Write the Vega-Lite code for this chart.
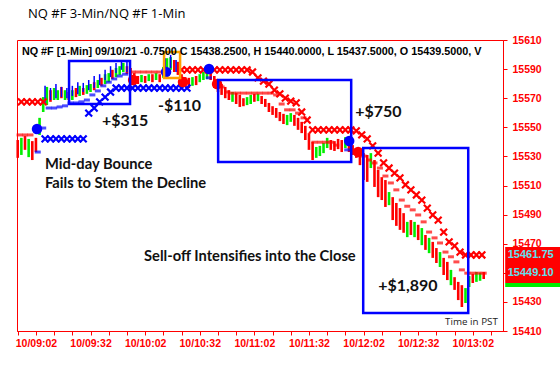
{
"$schema":"https://vega.github.io/schema/vega-lite/v6.json",
"width":486,"height":291,
"autosize":{"type":"none"},
"padding":{"left":17,"top":40,"right":57,"bottom":50},
"background":"white",
"title":{"text":"NQ #F 3-Min/NQ #F 1-Min","anchor":"start","frame":"group","offset":14,"dx":11,"fontSize":13,"fontWeight":"normal","font":"Open Sans","color":"#000000"},
"config":{"view":{"stroke":"#ff0000","strokeWidth":1},"font":"Liberation Sans"},
"datasets":{
"candles":[
{"t":532,"p":15541.25,"p2":15529,"d":"down"},{"t":534,"p":15542.75,"p2":15531,"d":"up"},{"t":536,"p":15544,"p2":15534.5,"d":"down"},{"t":538,"p":15542,"p2":15529.5,"d":"up"},{"t":540,"p":15540.5,"p2":15527.5,"d":"down"},{"t":542,"p":15542.75,"p2":15533,"d":"down"},{"t":544,"p":15556.5,"p2":15544.75,"d":"up"},{"t":546,"p":15570.75,"p2":15560.5,"d":"up"},{"t":548,"p":15577.75,"p2":15565.25,"d":"up"},{"t":550,"p":15575.5,"p2":15567.5,"d":"down"},
{"t":552,"p":15577,"p2":15568.75,"d":"up"},{"t":554,"p":15575.5,"p2":15568.75,"d":"up"},{"t":556,"p":15577.75,"p2":15570,"d":"down"},{"t":558,"p":15575.5,"p2":15568.75,"d":"up"},{"t":560,"p":15574.25,"p2":15568.75,"d":"down"},{"t":562,"p":15575.5,"p2":15568.75,"d":"up"},{"t":564,"p":15577,"p2":15570.75,"d":"down"},{"t":566,"p":15578.5,"p2":15571.5,"d":"up"},{"t":568,"p":15577,"p2":15572.25,"d":"down"},{"t":570,"p":15579,"p2":15573,"d":"up"},
{"t":572,"p":15579.75,"p2":15574.25,"d":"up"},{"t":574,"p":15581,"p2":15575.5,"d":"down"},{"t":576,"p":15582.5,"p2":15577,"d":"up"},{"t":578,"p":15584,"p2":15578.5,"d":"down"},{"t":580,"p":15586.5,"p2":15579.75,"d":"up"},{"t":582,"p":15587.25,"p2":15581,"d":"up"},{"t":584,"p":15589.5,"p2":15583.25,"d":"down"},{"t":586,"p":15590.75,"p2":15584.5,"d":"up"},{"t":588,"p":15592,"p2":15586,"d":"up"},{"t":590,"p":15594.25,"p2":15588,"d":"up"},
{"t":592,"p":15592,"p2":15586.5,"d":"down"},{"t":594,"p":15590.75,"p2":15585.25,"d":"down"},{"t":596,"p":15587.25,"p2":15579,"d":"down"},{"t":598,"p":15585.25,"p2":15579.75,"d":"down"},{"t":600,"p":15586,"p2":15581,"d":"up"},{"t":602,"p":15585.25,"p2":15580.5,"d":"down"},{"t":604,"p":15586.5,"p2":15581.75,"d":"up"},{"t":606,"p":15586.5,"p2":15581,"d":"down"},{"t":608,"p":15587.25,"p2":15582.5,"d":"up"},{"t":610,"p":15586.5,"p2":15581,"d":"down"},
{"t":612,"p":15591.5,"p2":15584,"d":"up"},{"t":614,"p":15597.5,"p2":15588,"d":"up"},{"t":616,"p":15598.25,"p2":15589.5,"d":"up"},{"t":618,"p":15596.25,"p2":15588,"d":"down"},{"t":620,"p":15595,"p2":15586,"d":"down"},{"t":622,"p":15586.5,"p2":15579.75,"d":"down"},{"t":624,"p":15584.5,"p2":15578.5,"d":"down"},{"t":626,"p":15584,"p2":15577,"d":"down"},{"t":628,"p":15584.5,"p2":15578.5,"d":"up"},{"t":630,"p":15585.25,"p2":15579,"d":"down"},
{"t":632,"p":15586.5,"p2":15581,"d":"up"},{"t":634,"p":15588,"p2":15582.5,"d":"up"},{"t":636,"p":15588.75,"p2":15583.25,"d":"up"},{"t":638,"p":15589.5,"p2":15582.5,"d":"down"},{"t":640,"p":15585.25,"p2":15577,"d":"down"},{"t":642,"p":15582.5,"p2":15574.25,"d":"down"},{"t":644,"p":15579.75,"p2":15572.25,"d":"down"},{"t":646,"p":15577.75,"p2":15570,"d":"down"},{"t":648,"p":15575.5,"p2":15568.75,"d":"down"},{"t":650,"p":15574.25,"p2":15567.5,"d":"up"},
{"t":652,"p":15573.5,"p2":15566,"d":"down"},{"t":654,"p":15572.25,"p2":15564,"d":"down"},{"t":656,"p":15570,"p2":15564.5,"d":"down"},{"t":658,"p":15570.75,"p2":15565.25,"d":"up"},{"t":660,"p":15572.25,"p2":15566,"d":"up"},{"t":662,"p":15573,"p2":15567.5,"d":"down"},{"t":664,"p":15573,"p2":15568,"d":"up"},{"t":666,"p":15571.5,"p2":15566,"d":"down"},{"t":668,"p":15569.5,"p2":15564,"d":"down"},{"t":670,"p":15566.75,"p2":15560.5,"d":"down"},
{"t":672,"p":15564.5,"p2":15558.5,"d":"down"},{"t":674,"p":15563.25,"p2":15556.5,"d":"down"},{"t":676,"p":15560.5,"p2":15554.25,"d":"down"},{"t":678,"p":15559.25,"p2":15552.25,"d":"down"},{"t":680,"p":15558.5,"p2":15551.5,"d":"up"},{"t":682,"p":15559.75,"p2":15553.75,"d":"up"},{"t":684,"p":15558.5,"p2":15551,"d":"down"},{"t":686,"p":15556.5,"p2":15548.25,"d":"down"},{"t":688,"p":15553.75,"p2":15546,"d":"down"},{"t":690,"p":15551,"p2":15541.25,"d":"down"},
{"t":692,"p":15546,"p2":15534.5,"d":"down"},{"t":694,"p":15540,"p2":15527.5,"d":"down"},{"t":696,"p":15536.5,"p2":15529,"d":"up"},{"t":698,"p":15537.25,"p2":15530.25,"d":"up"},{"t":700,"p":15539.25,"p2":15532.25,"d":"up"},{"t":702,"p":15542.75,"p2":15535.75,"d":"up"},{"t":704,"p":15541.25,"p2":15534.5,"d":"down"},{"t":706,"p":15540.5,"p2":15533.75,"d":"down"},{"t":708,"p":15542,"p2":15535,"d":"down"},{"t":710,"p":15541.25,"p2":15533,"d":"down"},
{"t":712,"p":15543.25,"p2":15535.75,"d":"up"},{"t":714,"p":15541.25,"p2":15533,"d":"down"},{"t":716,"p":15537.75,"p2":15531,"d":"down"},{"t":718,"p":15535.75,"p2":15529,"d":"down"},{"t":720,"p":15534.5,"p2":15524,"d":"down"},{"t":722,"p":15532.25,"p2":15513.75,"d":"down"},{"t":724,"p":15531,"p2":15512.5,"d":"down"},{"t":726,"p":15532.25,"p2":15522,"d":"up"},{"t":728,"p":15527.5,"p2":15509,"d":"down"},{"t":730,"p":15520.75,"p2":15502,"d":"down"},
{"t":732,"p":15515.75,"p2":15500,"d":"down"},{"t":734,"p":15513.75,"p2":15495.25,"d":"down"},{"t":736,"p":15505.5,"p2":15496.5,"d":"up"},{"t":738,"p":15502,"p2":15486.25,"d":"down"},{"t":740,"p":15498,"p2":15482.25,"d":"down"},{"t":742,"p":15494.5,"p2":15479.5,"d":"down"},{"t":744,"p":15491,"p2":15477.5,"d":"down"},{"t":746,"p":15485,"p2":15474.5,"d":"up"},{"t":748,"p":15486.25,"p2":15476,"d":"down"},{"t":750,"p":15485,"p2":15474.5,"d":"up"},
{"t":752,"p":15483,"p2":15472.5,"d":"down"},{"t":754,"p":15480.75,"p2":15469,"d":"up"},{"t":756,"p":15476,"p2":15465.75,"d":"down"},{"t":758,"p":15474,"p2":15463.5,"d":"up"},{"t":760,"p":15471.25,"p2":15460.25,"d":"down"},{"t":762,"p":15467,"p2":15456.75,"d":"down"},{"t":764,"p":15464.25,"p2":15454,"d":"up"},{"t":766,"p":15460.25,"p2":15448.5,"d":"down"},{"t":768,"p":15457.5,"p2":15445,"d":"down"},{"t":770,"p":15452,"p2":15441.5,"d":"up"},
{"t":772,"p":15447,"p2":15438.25,"d":"down"},{"t":774,"p":15443.75,"p2":15431.25,"d":"down"},{"t":776,"p":15441.5,"p2":15426.5,"d":"down"},{"t":778,"p":15439.5,"p2":15429.25,"d":"up"},{"t":780,"p":15447.75,"p2":15440.25,"d":"up"},{"t":782,"p":15449.25,"p2":15443,"d":"down"},{"t":784,"p":15450.5,"p2":15443.75,"d":"up"},{"t":786,"p":15450,"p2":15444.5,"d":"up"},{"t":788,"p":15450.5,"p2":15445.75,"d":"down"}
],
"bars3":[
{"t":547,"p":15578.5,"p2":15566,"d":"long"},{"t":550,"p":15577,"p2":15568.75,"d":"long"},{"t":553,"p":15579.75,"p2":15570,"d":"long"},{"t":556,"p":15577.75,"p2":15570.75,"d":"long"},{"t":559,"p":15577,"p2":15570,"d":"long"},{"t":562,"p":15578.5,"p2":15571.5,"d":"long"},{"t":565,"p":15581,"p2":15572.75,"d":"long"},{"t":568,"p":15580.5,"p2":15574.25,"d":"long"},{"t":571,"p":15582.5,"p2":15575.5,"d":"long"},{"t":574,"p":15585.25,"p2":15577,"d":"long"},{"t":577,"p":15586.5,"p2":15579,"d":"long"},{"t":580,"p":15589.5,"p2":15582.5,"d":"long"},{"t":583,"p":15592,"p2":15584.5,"d":"long"},{"t":586,"p":15594.25,"p2":15587.25,"d":"long"},{"t":589,"p":15596.25,"p2":15589.5,"d":"long"},{"t":592,"p":15595,"p2":15588,"d":"long"},{"t":613,"p":15597.5,"p2":15586,"d":"long"},{"t":616,"p":15599.75,"p2":15590.75,"d":"long"},{"t":619,"p":15596.25,"p2":15588,"d":"long"}
],
"trail":[
{"t":533,"p":15544.75,"d":"short"},{"t":536,"p":15544.75,"d":"short"},{"t":539,"p":15544.75,"d":"short"},
{"t":543,"p":15533,"d":"long"},{"t":546,"p":15549.5,"d":"long"},{"t":549,"p":15563.25,"d":"long"},{"t":552,"p":15563.25,"d":"long"},{"t":555,"p":15564,"d":"long"},{"t":558,"p":15564.75,"d":"long"},{"t":561,"p":15566.75,"d":"long"},{"t":564,"p":15566.75,"d":"long"},{"t":567,"p":15567.5,"d":"long"},{"t":570,"p":15568.75,"d":"long"},{"t":573,"p":15572.25,"d":"long"},{"t":576,"p":15575,"d":"long"},{"t":579,"p":15578.5,"d":"long"},{"t":582,"p":15581,"d":"long"},{"t":585,"p":15583.25,"d":"long"},{"t":588,"p":15585.25,"d":"long"},{"t":591,"p":15586.5,"d":"long"},
{"t":595,"p":15588,"d":"short"},{"t":598,"p":15588,"d":"short"},{"t":601,"p":15588,"d":"short"},{"t":604,"p":15588,"d":"short"},{"t":607,"p":15588,"d":"short"},{"t":610,"p":15588,"d":"short"},
{"t":637,"p":15584,"d":"long"},
{"t":641,"p":15581,"d":"short"},{"t":644,"p":15577.75,"d":"short"},{"t":647,"p":15574.25,"d":"short"},{"t":650,"p":15573.5,"d":"short"},{"t":653,"p":15573.5,"d":"short"},{"t":656,"p":15573.5,"d":"short"},{"t":659,"p":15573.5,"d":"short"},{"t":662,"p":15573.5,"d":"short"},{"t":665,"p":15573.5,"d":"short"},{"t":668,"p":15573.5,"d":"short"},{"t":671,"p":15573.5,"d":"short"},{"t":674,"p":15572.25,"d":"short"},{"t":677,"p":15566,"d":"short"},{"t":680,"p":15562,"d":"short"},{"t":683,"p":15562,"d":"short"},{"t":686,"p":15559.75,"d":"short"},{"t":689,"p":15556.5,"d":"short"},
{"t":695,"p":15539.75,"d":"short"},{"t":698,"p":15539.75,"d":"short"},{"t":701,"p":15539.75,"d":"short"},{"t":704,"p":15539.75,"d":"short"},{"t":707,"p":15537.75,"d":"short"},
{"t":713,"p":15534.5,"d":"long"},
{"t":719,"p":15533,"d":"short"},{"t":722,"p":15530.25,"d":"short"},{"t":725,"p":15527.5,"d":"short"},{"t":728,"p":15525.5,"d":"short"},{"t":731,"p":15522,"d":"short"},{"t":734,"p":15516.5,"d":"short"},{"t":737,"p":15511.75,"d":"short"},{"t":740,"p":15507,"d":"short"},{"t":743,"p":15500,"d":"short"},{"t":746,"p":15495.75,"d":"short"},{"t":749,"p":15493.25,"d":"short"},{"t":752,"p":15489.75,"d":"short"},{"t":755,"p":15485,"d":"short"},{"t":758,"p":15478,"d":"short"},{"t":761,"p":15474,"d":"short"},{"t":764,"p":15470.5,"d":"short"},{"t":767,"p":15464.25,"d":"short"},{"t":770,"p":15461,"d":"short"},{"t":773,"p":15457.5,"d":"short"},{"t":776,"p":15452,"d":"short"},{"t":779,"p":15449.75,"d":"short"},{"t":782,"p":15449.75,"d":"short"},{"t":785,"p":15449.75,"d":"short"},{"t":788,"p":15449.75,"d":"short"}
],
"stops":[
{"t":534,"p":15567.5,"d":"short"},{"t":537,"p":15567.5,"d":"short"},{"t":540,"p":15567.5,"d":"short"},{"t":543,"p":15567.5,"d":"short"},{"t":546,"p":15567.5,"d":"short"},
{"t":547,"p":15542,"d":"long"},{"t":550,"p":15542,"d":"long"},{"t":553,"p":15542,"d":"long"},{"t":556,"p":15542,"d":"long"},{"t":559,"p":15542,"d":"long"},{"t":562,"p":15542,"d":"long"},{"t":565,"p":15542,"d":"long"},{"t":568,"p":15542,"d":"long"},{"t":571,"p":15559.75,"d":"long"},{"t":574,"p":15563.25,"d":"long"},{"t":577,"p":15567.5,"d":"long"},{"t":580,"p":15570.75,"d":"long"},{"t":583,"p":15574.25,"d":"long"},{"t":586,"p":15577,"d":"long"},{"t":589,"p":15577,"d":"long"},{"t":592,"p":15577,"d":"long"},{"t":595,"p":15577,"d":"long"},{"t":598,"p":15577,"d":"long"},{"t":601,"p":15577,"d":"long"},{"t":604,"p":15577,"d":"long"},{"t":607,"p":15577,"d":"long"},{"t":610,"p":15577,"d":"long"},{"t":613,"p":15577,"d":"long"},{"t":616,"p":15577,"d":"long"},{"t":619,"p":15577,"d":"long"},{"t":622,"p":15577,"d":"long"},{"t":625,"p":15577,"d":"long"},
{"t":622,"p":15589.5,"d":"short"},{"t":625,"p":15589.5,"d":"short"},{"t":628,"p":15589.5,"d":"short"},{"t":631,"p":15589.5,"d":"short"},{"t":634,"p":15589.5,"d":"short"},{"t":637,"p":15589.5,"d":"short"},{"t":640,"p":15589.5,"d":"short"},{"t":643,"p":15589.5,"d":"short"},{"t":646,"p":15589.5,"d":"short"},{"t":649,"p":15589.5,"d":"short"},{"t":652,"p":15589.5,"d":"short"},{"t":655,"p":15589.5,"d":"short"},{"t":658,"p":15589.5,"d":"short"},{"t":661,"p":15588,"d":"short"},{"t":664,"p":15584,"d":"short"},{"t":667,"p":15581.75,"d":"short"},{"t":670,"p":15579.75,"d":"short"},{"t":673,"p":15575.5,"d":"short"},{"t":676,"p":15573,"d":"short"},{"t":679,"p":15570,"d":"short"},{"t":682,"p":15568,"d":"short"},{"t":685,"p":15566.75,"d":"short"},{"t":688,"p":15560.5,"d":"short"},{"t":691,"p":15555,"d":"short"},
{"t":694,"p":15548.25,"d":"short"},{"t":697,"p":15548.25,"d":"short"},{"t":700,"p":15548.25,"d":"short"},{"t":703,"p":15548.25,"d":"short"},{"t":706,"p":15548.25,"d":"short"},{"t":709,"p":15548.25,"d":"short"},{"t":712,"p":15548.25,"d":"short"},{"t":715,"p":15548.25,"d":"short"},{"t":718,"p":15547.5,"d":"short"},{"t":721,"p":15544.75,"d":"short"},{"t":724,"p":15542,"d":"short"},{"t":727,"p":15537.25,"d":"short"},{"t":730,"p":15532.25,"d":"short"},{"t":733,"p":15525.5,"d":"short"},{"t":736,"p":15522,"d":"short"},{"t":739,"p":15518.5,"d":"short"},{"t":742,"p":15515.25,"d":"short"},{"t":745,"p":15510.5,"d":"short"},{"t":748,"p":15507,"d":"short"},{"t":751,"p":15503.5,"d":"short"},{"t":754,"p":15500,"d":"short"},{"t":757,"p":15494.5,"d":"short"},{"t":760,"p":15489.75,"d":"short"},{"t":763,"p":15486.25,"d":"short"},{"t":766,"p":15478,"d":"short"},{"t":769,"p":15471.25,"d":"short"},{"t":772,"p":15468.5,"d":"short"},{"t":775,"p":15464.25,"d":"short"},{"t":778,"p":15462.25,"d":"short"},{"t":781,"p":15462.25,"d":"short"},{"t":784,"p":15462.25,"d":"short"},{"t":787,"p":15462.25,"d":"short"}
],
"signals":[
{"t":542.6,"p":15548.8,"d":"long"},{"t":613.5,"p":15588,"d":"long"},{"t":637.1,"p":15590.1,"d":"long"},{"t":714.1,"p":15540.6,"d":"long"},
{"t":595.4,"p":15582.5,"d":"short"},{"t":622.8,"p":15581.1,"d":"short"},{"t":641.5,"p":15579.8,"d":"short"},{"t":719,"p":15533,"d":"short"}
],
"boxes":[
{"t":560.2,"t2":593.7,"p":15595.6,"p2":15566,"d":"long"},
{"t":612.4,"t2":621.2,"p":15601.8,"p2":15583.9,"d":"flag"},
{"t":642.1,"t2":715.2,"p":15582.5,"p2":15526.2,"d":"long"},
{"t":721.8,"t2":779.5,"p":15535.8,"p2":15422.4,"d":"long"}
],
"tags":[
{"t":799.8,"t2":835,"p":15467.7,"p2":15443,"d":"down"},
{"t":799.8,"t2":835,"p":15443,"p2":15440.3,"d":"up"}
],
"tagtext":[
{"t":801.2,"p":15462.2,"label":"15461.75"},
{"t":801.2,"p":15449.9,"label":"15449.10"}
]
},
"encoding":{
"x":{"field":"t","type":"quantitative","scale":{"domain":[531.6,798.6],"nice":false,"zero":false},
"axis":{"title":null,"grid":false,"values":[532,542,552,562,572,582,592,602,612,622,632,642,652,662,672,682,692,702,712,722,732,742,752,762,772,782,792],
"labelExpr":"(datum.value - 542) % 30 == 0 ? '10/' + format(floor(datum.value / 60), '02d') + ':' + format(datum.value % 60, '02d') : ''",
"labelColor":"#ff0000","labelFont":"Liberation Sans","labelFontWeight":"bold","labelFontSize":10.5,"labelPadding":3,"labelOverlap":false,"labelFlush":false,
"domainColor":"#ff0000","tickColor":"#ff0000","tickSize":4}},
"y":{"field":"p","type":"quantitative","scale":{"domain":[15410,15610],"nice":false,"zero":false},
"axis":{"orient":"right","title":null,"grid":false,"values":[15410,15430,15450,15470,15490,15510,15530,15550,15570,15590,15610],
"labelExpr":"datum.value == 15450 ? '' : format(datum.value, 'd')",
"labelColor":"#ff0000","labelFont":"Liberation Sans","labelFontWeight":"bold","labelFontSize":10.5,"labelPadding":5,"labelAlign":"left","labelBaseline":"middle","labelOverlap":false,
"domainColor":"#ff0000","tickColor":"#ff0000","tickSize":4}}
},
"layer":[
{"data":{"name":"candles"},"mark":{"type":"rule","strokeWidth":2.6,"strokeCap":"butt"},
"encoding":{"y2":{"field":"p2"},"color":{"field":"d","type":"nominal","legend":null,"scale":{"domain":["up","down","long","short","flag"],"range":["#00ee00","#ff0000","#0000ff","#ff0000","#ffa000"]}}}},
{"data":{"name":"bars3"},"mark":{"type":"rule","strokeWidth":1.5,"strokeCap":"butt"},
"encoding":{"y2":{"field":"p2"},"color":{"field":"d","type":"nominal","legend":null}}},
{"data":{"name":"trail"},"mark":{"type":"tick","orient":"horizontal","size":6,"thickness":3},
"encoding":{"color":{"field":"d","type":"nominal","legend":null}}},
{"data":{"name":"stops"},"mark":{"type":"point","shape":"M-1,-1L1,1M-1,1L1,-1","filled":false,"strokeWidth":2.2,"size":46,"opacity":1},
"encoding":{"color":{"field":"d","type":"nominal","legend":null}}},
{"data":{"name":"signals"},"mark":{"type":"circle","size":110,"opacity":1},
"encoding":{"color":{"field":"d","type":"nominal","legend":null}}},
{"data":{"name":"boxes"},"mark":{"type":"rect","filled":false,"strokeWidth":2.5},
"encoding":{"x2":{"field":"t2"},"y2":{"field":"p2"},"color":{"field":"d","type":"nominal","legend":null}}},
{"data":{"values":[{"t":534.3,"p":15601.8,"label":"NQ #F [1-Min] 09/10/21  -0.7500 C 15438.2500, H 15440.0000, L 15437.5000, O 15439.5000, V"}]},
"mark":{"type":"text","align":"left","baseline":"middle","font":"Liberation Sans","fontWeight":"bold","fontSize":10.8,"color":"#000000"},
"encoding":{"text":{"field":"label"}}},
{"data":{"values":[{"t":578.3,"p":15554.3,"label":"+$315"},{"t":609.1,"p":15564.6,"label":"-$110"},{"t":717.4,"p":15560.5,"label":"+$750"},{"t":730,"p":15440.9,"label":"+$1,890"}]},
"mark":{"type":"text","align":"left","baseline":"middle","font":"Lato","fontWeight":"bold","fontSize":16,"color":"#111111"},
"encoding":{"text":{"field":"label"}}},
{"data":{"values":[{"t":547,"p":15524.1,"label":"Mid-day Bounce"},{"t":547,"p":15511,"label":"Fails to Stem the Decline"},{"t":601.4,"p":15460.9,"label":"Sell-off Intensifies into the Close"}]},
"mark":{"type":"text","align":"left","baseline":"middle","font":"Lato","fontWeight":"bold","fontSize":14.7,"color":"#111111"},
"encoding":{"text":{"field":"label"}}},
{"data":{"values":[{"t":766.8,"p":15416.2,"label":"Time in PST"}]},
"mark":{"type":"text","align":"left","baseline":"middle","font":"Open Sans","fontSize":9.8,"color":"#222222"},
"encoding":{"text":{"field":"label"}}},
{"data":{"name":"tags"},"mark":{"type":"rect"},
"encoding":{"x2":{"field":"t2"},"y2":{"field":"p2"},"color":{"field":"d","type":"nominal","legend":null}}},
{"data":{"name":"tagtext"},"mark":{"type":"text","align":"left","baseline":"middle","font":"Liberation Sans","fontWeight":"bold","fontSize":11,"color":"#5fe0ee"},
"encoding":{"text":{"field":"label"}}}
]
}
